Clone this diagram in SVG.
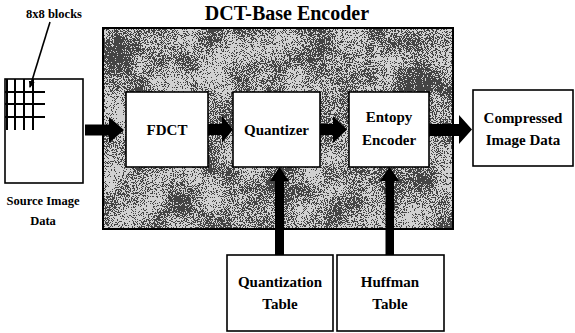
<svg xmlns="http://www.w3.org/2000/svg" width="575" height="333" viewBox="0 0 575 333">
<style>
  text { font-family: "Liberation Serif", "Times New Roman", serif; font-weight: bold; fill: #000; text-anchor: middle; }
  .lbl { font-size: 15px; }
  .sm { font-size: 12.5px; }
  .title { font-size: 20px; }
  .box { fill: #fff; stroke: #000; stroke-width: 1.6; }
  .grid { stroke: #000; stroke-width: 2; fill: none; }
  .arrow { fill: #000; stroke: none; }
</style>
<defs>
  <filter id="grain" x="0" y="0" width="100%" height="100%" color-interpolation-filters="sRGB">
    <feTurbulence type="fractalNoise" baseFrequency="1.1" numOctaves="1" seed="4" result="fine"/>
    <feColorMatrix in="fine" type="matrix" values="1 0 0 0 0  1 0 0 0 0  1 0 0 0 0  0 0 0 0 1" result="fineG"/>
    <feTurbulence type="fractalNoise" baseFrequency="0.03" numOctaves="3" seed="9" result="coarse"/>
    <feColorMatrix in="coarse" type="matrix" values="1 0 0 0 0  1 0 0 0 0  1 0 0 0 0  0 0 0 0 1" result="coarseG"/>
    <feComposite in="fineG" in2="coarseG" operator="arithmetic" k1="0" k2="1" k3="0.45" k4="-0.22" result="sum"/>
    <feComponentTransfer in="sum">
      <feFuncR type="discrete" tableValues="0.27 0.82"/>
      <feFuncG type="discrete" tableValues="0.27 0.82"/>
      <feFuncB type="discrete" tableValues="0.27 0.82"/>
      <feFuncA type="linear" slope="0" intercept="1"/>
    </feComponentTransfer>
  </filter>
  <marker id="ptr" markerWidth="8" markerHeight="8" refX="6" refY="4" orient="auto" markerUnits="userSpaceOnUse">
    <path d="M0,1 L7,4 L0,7 Z" fill="#000"/>
  </marker>
</defs>

<!-- Source image -->
<g id="source-image">
  <rect class="box" x="5" y="79" width="78" height="104"/>
  <path class="grid" d="M5,92 H45 M5,104 H45 M5,117 H45 M7,79 V130 M15,79 V130 M24,79 V130 M33,79 V130"/>
  <text class="sm" x="43" y="205">Source Image</text>
  <text class="sm" x="43" y="225">Data</text>
</g>
<g id="blocks-label">
  <text class="sm" x="54" y="18">8x8 blocks</text>
  <line x1="50" y1="22" x2="30" y2="87" stroke="#000" stroke-width="1.6" marker-end="url(#ptr)"/>
</g>

<!-- Encoder container -->
<g id="encoder">
  <rect x="103" y="28" width="350" height="201" fill="#888" filter="url(#grain)"/>
  <rect x="103" y="28" width="350" height="201" fill="none" stroke="#000" stroke-width="2"/>
  <text class="title" x="287" y="20">DCT-Base Encoder</text>
</g>

<g id="fdct">
  <rect class="box" x="126" y="92" width="82" height="75"/>
  <text class="lbl" x="167" y="135">FDCT</text>
</g>
<g id="quantizer">
  <rect class="box" x="233" y="92" width="87" height="75"/>
  <text class="lbl" x="276.5" y="135">Quantizer</text>
</g>
<g id="entropy-encoder">
  <rect class="box" x="349" y="92" width="80" height="75"/>
  <text class="lbl" x="389" y="122">Entopy</text>
  <text class="lbl" x="389" y="145">Encoder</text>
</g>
<g id="compressed">
  <rect class="box" x="473" y="90" width="100" height="76"/>
  <text class="lbl" x="523" y="123">Compressed</text>
  <text class="lbl" x="523" y="145">Image Data</text>
</g>
<g id="quant-table">
  <rect class="box" x="227" y="255" width="106" height="76"/>
  <text class="lbl" x="280" y="287">Quantization</text>
  <text class="lbl" x="280" y="309">Table</text>
</g>
<g id="huffman-table">
  <rect class="box" x="337" y="255" width="107" height="76"/>
  <text class="lbl" x="390" y="287">Huffman</text>
  <text class="lbl" x="390" y="309">Table</text>
</g>

<!-- Connectors -->
<g id="connectors">
  <polygon class="arrow" points="85,124.5 109,124.5 109,117 124,130 109,143 109,135.5 85,135.5"/>
  <polygon class="arrow" points="208,124 222,124 222,116 233,129.5 222,143 222,135 208,135"/>
  <polygon class="arrow" points="320,124 333,124 333,116 347,129.5 333,143 333,135 320,135"/>
  <polygon class="arrow" points="429,124 459,124 459,115 472,129.5 459,144 459,136 429,136"/>
  <polygon class="arrow" points="275,255 275,181 270,181 279.5,167 289,181 284,181 284,255"/>
  <polygon class="arrow" points="385.5,255 385.5,181 380,181 389.5,167 399,181 394,181 394,255"/>
</g>
</svg>
